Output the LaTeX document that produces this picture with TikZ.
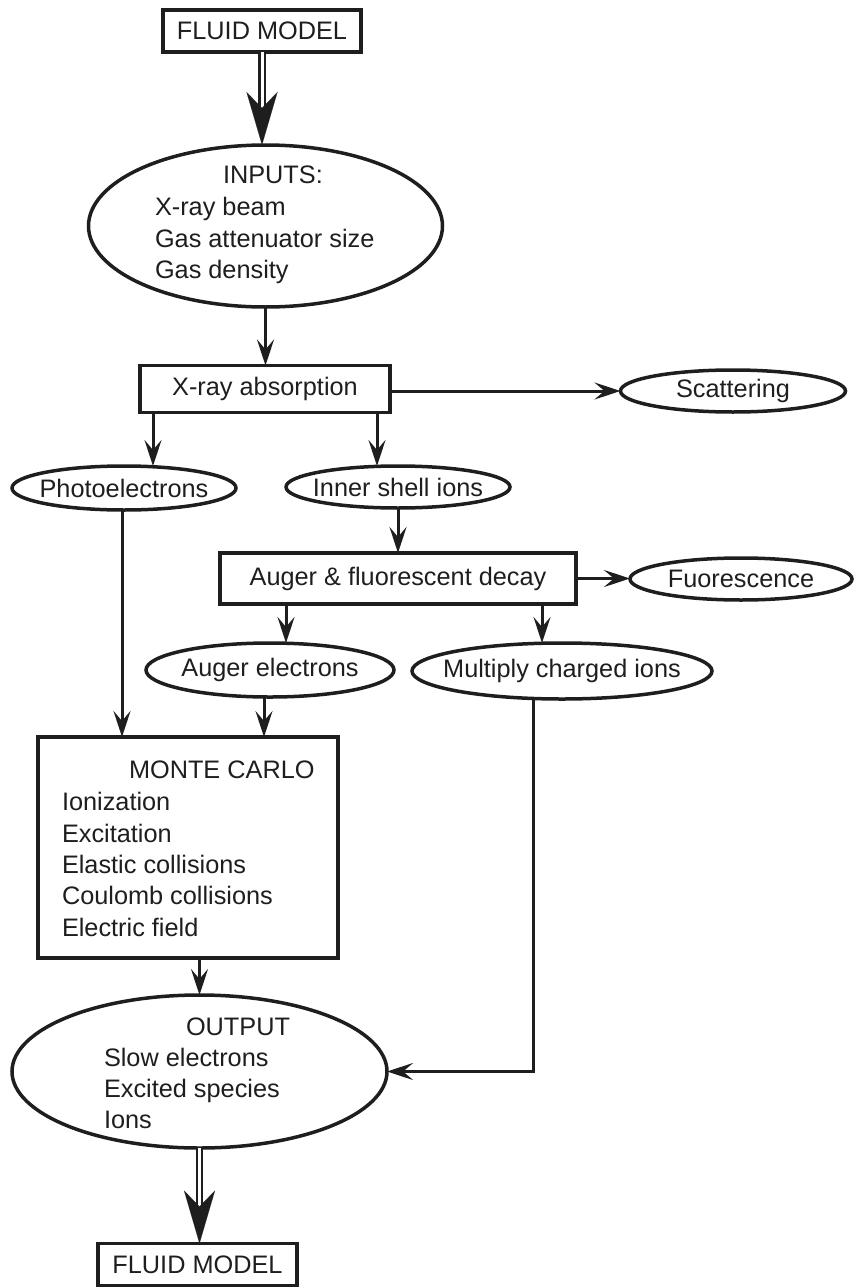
\documentclass[tikz,border=0pt]{standalone}
\usepackage{fontspec}
\setmainfont{Liberation Sans}
\usetikzlibrary{arrows.meta,shapes.geometric,calc}
\definecolor{ink}{HTML}{1E1E1E}
\begin{document}
\begin{tikzpicture}[x=1pt,y=-1pt,
  every node/.style={font=\fontsize{25.3}{30}\selectfont, text=ink, inner sep=0pt, outer sep=0pt},
  box/.style={draw=ink, line width=3.5pt, rectangle},
  oval/.style={draw=ink, line width=3.5pt, ellipse},
  arr/.style={draw=ink, line width=3pt, -{Stealth[length=26pt,width=17pt,inset=10pt]}},
  dbl/.style={draw=ink, line width=2.2pt, double=white, double distance=3pt},
  bigtip/.style={draw=ink, line width=0.1pt, -{Stealth[length=53pt,width=31pt,inset=16pt]}},
  txt/.style={anchor=base west}]
\useasboundingbox (0,0) rectangle (854,1287);

% nodes
\node[box, minimum width=198pt, minimum height=42pt] (fm1) at (262,31) {FLUID MODEL};

\node[oval, minimum width=354pt, minimum height=162pt] (inp) at (265.5,226) {};
\node[txt] at (223,183) {INPUTS:};
\node[txt] at (155,215) {X-ray beam};
\node[txt] at (155,247) {Gas attenuator size};
\node[txt] at (155,278) {Gas density};

\node[box, minimum width=250pt, minimum height=47pt] (xb) at (265,389) {X-ray absorption};
\node[oval, minimum width=225pt, minimum height=42pt, label=center:Scattering] (sc) at (733,391) {};
\node[oval, minimum width=224pt, minimum height=44pt, label=center:Photoelectrons] (pe) at (124,488) {};
\node[oval, minimum width=224pt, minimum height=42pt, label=center:Inner shell ions] (isi) at (398,487) {};
\node[box, minimum width=356pt, minimum height=51pt] (ab) at (398,578.5) {Auger \& fluorescent decay};
\node[oval, minimum width=222pt, minimum height=42pt, label=center:Fuorescence] (fl) at (741,579) {};
\node[oval, minimum width=248pt, minimum height=54pt, label=center:Auger electrons] (ae) at (270,670) {};
\node[oval, minimum width=300pt, minimum height=56pt, label=center:Multiply charged ions] (mci) at (562,671) {};

\node[box, minimum width=300pt, minimum height=221pt] (mc) at (188,847.5) {};
\node[txt] at (129,778) {MONTE CARLO};
\node[txt] at (62,810) {Ionization};
\node[txt] at (62,842) {Excitation};
\node[txt] at (62,873) {Elastic collisions};
\node[txt] at (62,904) {Coulomb collisions};
\node[txt] at (62,936) {Electric field};

\node[oval, minimum width=375pt, minimum height=153pt] (out) at (199.5,1071.5) {};
\node[txt] at (186,1035) {OUTPUT};
\node[txt] at (104,1066) {Slow electrons};
\node[txt] at (104,1097) {Excited species};
\node[txt] at (104,1128) {Ions};

\node[box, minimum width=199pt, minimum height=42pt] (fm2) at (197.5,1264.5) {FLUID MODEL};

% connectors
\draw[dbl, shorten >=36pt] (fm1.south) -- (fm1.south |- inp.north);
\coordinate (t1) at ($(fm1.south |- inp.north)+(0,-30)$);
\draw[bigtip] (t1) -- (fm1.south |- inp.north);

\draw[arr] (inp.south) -- (inp.south |- xb.north);
\draw[arr] (sc.west -| xb.east) -- (sc.west);
\coordinate (c1) at ($(xb.south)+(-112,0)$);
\draw[arr] (c1) -- (c1 |- pe.north);
\coordinate (c2) at ($(xb.south)+(112,0)$);
\draw[arr] (c2) -- (c2 |- isi.north);
\draw[arr] (isi.south) -- (isi.south |- ab.north);
\draw[arr] (ab.east) -- (ab.east -| fl.west);
\coordinate (c3) at ($(ab.south)+(-112,0)$);
\draw[arr] (c3) -- (c3 |- ae.north);
\coordinate (c4) at ($(ab.south)+(144,0)$);
\draw[arr] (c4) -- (c4 |- mci.north);
\coordinate (c5) at ($(pe.south)+(-2,0)$);
\draw[arr] (c5) -- (c5 |- mc.north);
\coordinate (c6) at ($(ae.south)+(-6,0)$);
\draw[arr] (c6) -- (c6 |- mc.north);
\coordinate (c7) at ($(mci.south)+(-29,0)$);
\draw[arr] (c7) |- (out.east);
\draw[arr] (mc.south -| out.north) -- (out.north);

\draw[dbl, shorten >=36pt] (out.south) -- (out.south |- fm2.north);
\coordinate (t2) at ($(out.south |- fm2.north)+(0,-30)$);
\draw[bigtip] (t2) -- (out.south |- fm2.north);
\end{tikzpicture}
\end{document}
